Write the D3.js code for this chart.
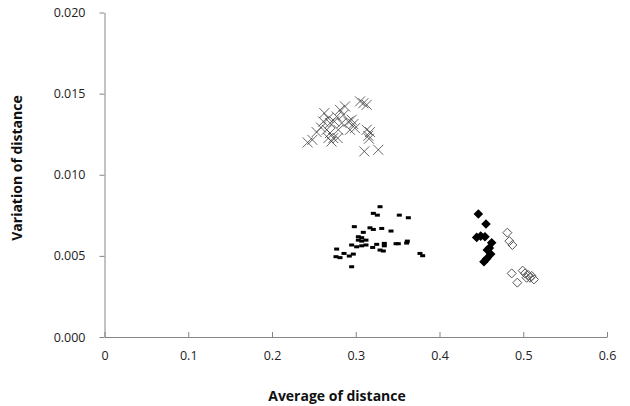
<!DOCTYPE html>
<html><head><meta charset="utf-8">
<script src="https://cdn.jsdelivr.net/npm/d3@7"></script>
<style>body{margin:0;background:#fff}svg{display:block}</style>
</head><body>
<script>
const xTicks = [0, 0.1, 0.2, 0.3, 0.4, 0.5, 0.6];
const yTicks = [0, 0.005, 0.010, 0.015, 0.020];
const xTitle = "Average of distance";
const yTitle = "Variation of distance";

// series: crosses (gray x)
const crossX = [0.2426,0.2482,0.2533,0.2585,0.2625,0.2613,0.2673,0.2693,0.2653,0.2693,0.2673,0.2732,0.2744,0.2784,0.2792,0.2772,0.2812,0.2872,0.2852,0.2832,0.2911,0.2951,0.2971,0.2931,0.2991,0.3051,0.3131,0.3091,0.3131,0.3170,0.3150,0.3158,0.3102,0.3269,0.2710];
const crossY = [0.01199,0.01215,0.01263,0.01291,0.01380,0.01328,0.01349,0.01318,0.01277,0.01257,0.01226,0.01226,0.01329,0.01226,0.01277,0.01359,0.01400,0.01421,0.01369,0.01318,0.01328,0.01339,0.01312,0.01277,0.01287,0.01452,0.01431,0.01441,0.01277,0.01263,0.01240,0.01222,0.01144,0.01154,0.01205];
// series: dashes (black)
const dashX = [0.3290,0.3210,0.3258,0.3520,0.3628,0.2983,0.3170,0.3210,0.3310,0.3090,0.3421,0.3031,0.3071,0.3031,0.3071,0.3122,0.2951,0.3011,0.3071,0.3122,0.3202,0.3250,0.3341,0.3341,0.3481,0.3508,0.3616,0.3608,0.2772,0.2860,0.2923,0.2971,0.2764,0.2812,0.3290,0.3329,0.3767,0.3799,0.2951];
const dashY = [0.00803,0.00762,0.00751,0.00751,0.00735,0.00680,0.00673,0.00663,0.00669,0.00645,0.00653,0.00618,0.00612,0.00597,0.00591,0.00597,0.00567,0.00556,0.00562,0.00567,0.00552,0.00571,0.00577,0.00562,0.00575,0.00575,0.00591,0.00579,0.00542,0.00515,0.00499,0.00511,0.00495,0.00489,0.00536,0.00530,0.00515,0.00501,0.00433];
// series: filled diamonds
const fillX = [0.4464,0.4555,0.4444,0.4492,0.4543,0.4623,0.4571,0.4611,0.4531,0.4563,0.4595];
const fillY = [0.00758,0.00696,0.00614,0.00622,0.00618,0.00581,0.00536,0.00511,0.00464,0.00482,0.00548];
// series: open diamonds
const openX = [0.4810,0.4834,0.4870,0.4862,0.4929,0.4993,0.5021,0.5060,0.5101,0.5128,0.5081,0.5040];
const openY = [0.00643,0.00591,0.00567,0.00392,0.00335,0.00409,0.00392,0.00382,0.00376,0.00355,0.00365,0.00365];

const W = 630, H = 406;
const svg = d3.select("body").append("svg").attr("width", W).attr("height", H);
const x = d3.scaleLinear().domain([0, 0.6]).range([104.5, 607]);
const y = d3.scaleLinear().domain([0, 0.020]).range([337, 12.5]);
const axisColor = "#868686";
const font = "'Open Sans', sans-serif";

// axes
const gx = svg.append("g").attr("transform", `translate(0,${y(0)})`)
  .call(d3.axisBottom(x).tickValues(xTicks).tickSizeInner(-5).tickSizeOuter(0).tickPadding(14)
    .tickFormat(d => d === 0 ? "0" : d3.format(".1f")(d)));
const gy = svg.append("g").attr("transform", `translate(${x(0)},0)`)
  .call(d3.axisLeft(y).tickValues(yTicks).tickSizeInner(5).tickSizeOuter(0).tickPadding(14)
    .tickFormat(d3.format(".3f")));
[gx, gy].forEach(g => {
  g.select(".domain").attr("stroke", axisColor);
  g.selectAll(".tick line").attr("stroke", axisColor);
  g.selectAll(".tick text").attr("fill", "#222").style("font-family", font).style("font-size", "12.5px");
});
gx.selectAll(".tick text").attr("dy", "0.71em");

// titles
svg.append("text").attr("x", 337).attr("y", 397).attr("text-anchor", "middle")
  .attr("dominant-baseline", "middle")
  .style("font-family", font).style("font-size", "14px").style("font-weight", "bold").attr("fill", "#111")
  .text(xTitle);
svg.append("text").attr("transform", `translate(18,168) rotate(-90)`).attr("text-anchor", "middle")
  .attr("dominant-baseline", "middle")
  .style("font-family", font).style("font-size", "14px").style("font-weight", "bold").attr("fill", "#111")
  .text(yTitle);

const plot = svg.append("g");
// crosses
const crosses = d3.zip(crossX, crossY);
const cg = plot.selectAll("g.cross").data(crosses).join("g").attr("class", "cross")
  .attr("transform", d => `translate(${x(d[0])},${y(d[1])})`);
cg.append("path").attr("d", "M-5,-5L5,5M-5,5L5,-5").attr("stroke", "#333").attr("stroke-opacity", 0.75)
  .attr("stroke-width", 1).attr("fill", "none");

// dashes
plot.selectAll("rect.dash").data(d3.zip(dashX, dashY)).join("rect").attr("class", "dash")
  .attr("x", d => x(d[0]) - 2.5).attr("y", d => y(d[1]) - 1.5).attr("width", 5).attr("height", 3).attr("fill", "#000");

// filled diamonds
const diamond = "M0,-4.8L4.8,0L0,4.8L-4.8,0Z";
plot.selectAll("path.fd").data(d3.zip(fillX, fillY)).join("path").attr("class", "fd")
  .attr("transform", d => `translate(${x(d[0])},${y(d[1])})`).attr("d", diamond).attr("fill", "#000");

// open diamonds
plot.selectAll("path.od").data(d3.zip(openX, openY)).join("path").attr("class", "od")
  .attr("transform", d => `translate(${x(d[0])},${y(d[1])})`).attr("d", "M0,-4.5L4.5,0L0,4.5L-4.5,0Z")
  .attr("fill", "none").attr("stroke", "#555").attr("stroke-width", 1);
</script>
</body></html>
